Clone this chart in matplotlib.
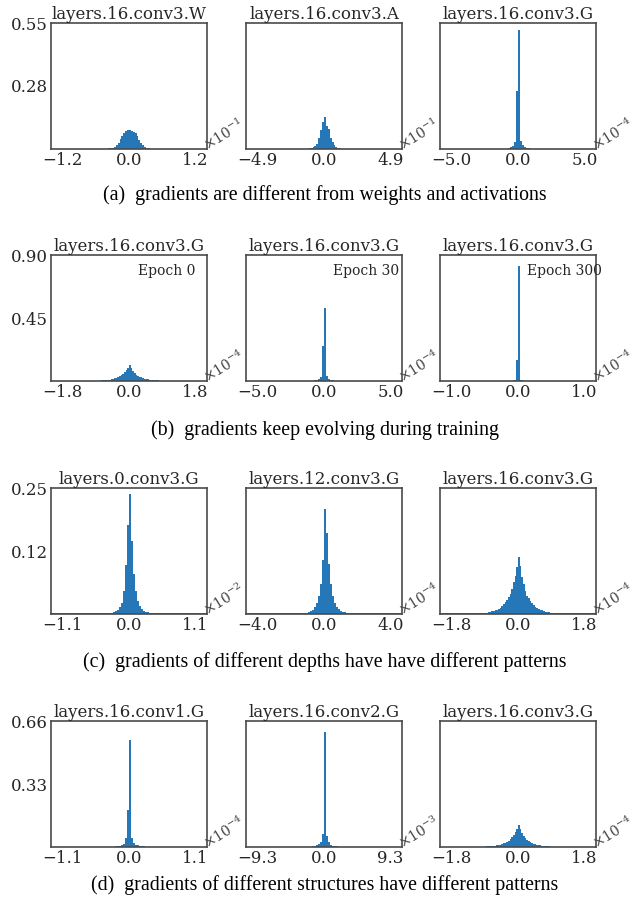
import matplotlib
matplotlib.use("Agg")
import matplotlib.pyplot as plt
import numpy as np

plt.rcParams['font.family'] = ['DejaVu Serif']
plt.rcParams['mathtext.fontset'] = 'dejavuserif'

# ---------------- data (histogram bin heights) ----------------
# bin k spans [k*bw, (k+1)*bw] in the panel's scaled units
w16_conv3_bw = 0.034
w16_conv3_k0 = -11
w16_conv3_h = [0.003, 0.004, 0.006, 0.010, 0.017, 0.028, 0.043, 0.058, 0.070, 0.078, 0.081,
               0.082, 0.080, 0.076, 0.068, 0.056, 0.041, 0.027, 0.016, 0.009, 0.005, 0.003]
w16_conv3_tail = [-1.40, 1.40, 0.002]

a16_conv3_bw = 0.14
a16_conv3_k0 = -8
a16_conv3_h = [0.003, 0.005, 0.008, 0.013, 0.024, 0.048, 0.085, 0.120,
               0.138, 0.100, 0.088, 0.050, 0.030, 0.016, 0.009, 0.005, 0.003]
a16_conv3_tail = [-3.5, 5.7, 0.0015]

g16_conv3_ep30_bw = 0.15
g16_conv3_ep30_k0 = -5
g16_conv3_ep30_h = [0.004, 0.007, 0.012, 0.030, 0.253, 0.520, 0.036, 0.016, 0.008, 0.005, 0.003]
g16_conv3_ep30_tail = [-5.8, 5.8, 0.0015]

g16_conv3_ep0_bw = 0.045
g16_conv3_ep0_k0 = -20
g16_conv3_ep0_h = [0.0024, 0.0028, 0.0033, 0.004, 0.005, 0.006, 0.007, 0.0085, 0.010, 0.012,
                   0.015, 0.019, 0.023, 0.028, 0.033, 0.040, 0.050, 0.063, 0.076, 0.093,
                   0.114, 0.096, 0.073, 0.060, 0.046, 0.036, 0.031, 0.026, 0.021, 0.017,
                   0.014, 0.011, 0.009, 0.008, 0.007, 0.0055, 0.0045, 0.0037, 0.003, 0.0026]
g16_conv3_ep0_tail = [-2.1, 2.1, 0.0015]

g16_conv3_ep300_bw = 0.023
g16_conv3_ep300_k0 = -3
g16_conv3_ep300_h = [0.004, 0.008, 0.150, 0.823, 0.010, 0.004]
g16_conv3_ep300_tail = [-1.17, 1.17, 0.001]

g0_conv3_bw = 0.033
g0_conv3_k0 = -9
g0_conv3_h = [0.002, 0.003, 0.005, 0.008, 0.013, 0.022, 0.045, 0.097, 0.177,
              0.239, 0.144, 0.080, 0.045, 0.025, 0.015, 0.009, 0.006, 0.004, 0.003]
g0_conv3_tail = [-1.28, 1.28, 0.0015]

g12_conv3_bw = 0.12
g12_conv3_k0 = -9
g12_conv3_h = [0.002, 0.003, 0.005, 0.008, 0.013, 0.022, 0.035, 0.060, 0.107,
               0.208, 0.160, 0.100, 0.060, 0.036, 0.022, 0.014, 0.009, 0.006, 0.004, 0.003]
g12_conv3_tail = [-4.68, 4.68, 0.0015]

g16_conv1_bw = 0.033
g16_conv1_k0 = -7
g16_conv1_h = [0.003, 0.004, 0.006, 0.009, 0.015, 0.045, 0.193,
               0.562, 0.048, 0.020, 0.012, 0.008, 0.005, 0.004, 0.003]
g16_conv1_tail = [-1.28, 1.28, 0.0015]

g16_conv2_bw = 0.28
g16_conv2_k0 = -6
g16_conv2_h = [0.003, 0.005, 0.008, 0.014, 0.028, 0.067,
               0.602, 0.060, 0.025, 0.012, 0.007, 0.004, 0.003]
g16_conv2_tail = [-10.9, 10.9, 0.0015]

titles = [["layers.16.conv3.W", "layers.16.conv3.A", "layers.16.conv3.G"],
          ["layers.16.conv3.G", "layers.16.conv3.G", "layers.16.conv3.G"],
          ["layers.0.conv3.G", "layers.12.conv3.G", "layers.16.conv3.G"],
          ["layers.16.conv1.G", "layers.16.conv2.G", "layers.16.conv3.G"]]
xticks_max = [[1.2, 4.9, 5.0], [1.8, 5.0, 1.0], [1.1, 4.0, 1.8], [1.1, 9.3, 1.8]]
exponents = [[-1, -1, -4], [-4, -4, -4], [-2, -4, -4], [-4, -3, -4]]
row_ymax = [0.55, 0.90, 0.25, 0.66]
epoch_labels = ["Epoch 0", "Epoch 30", "Epoch 300"]
captions = ["(a)  gradients are different from weights and activations",
            "(b)  gradients keep evolving during training",
            "(c)  gradients of different depths have have different patterns",
            "(d)  gradients of different structures have different patterns"]

hist = [[(w16_conv3_bw, w16_conv3_k0, w16_conv3_h, w16_conv3_tail),
         (a16_conv3_bw, a16_conv3_k0, a16_conv3_h, a16_conv3_tail),
         (g16_conv3_ep30_bw, g16_conv3_ep30_k0, g16_conv3_ep30_h, g16_conv3_ep30_tail)],
        [(g16_conv3_ep0_bw, g16_conv3_ep0_k0, g16_conv3_ep0_h, g16_conv3_ep0_tail),
         (g16_conv3_ep30_bw, g16_conv3_ep30_k0, g16_conv3_ep30_h, g16_conv3_ep30_tail),
         (g16_conv3_ep300_bw, g16_conv3_ep300_k0, g16_conv3_ep300_h, g16_conv3_ep300_tail)],
        [(g0_conv3_bw, g0_conv3_k0, g0_conv3_h, g0_conv3_tail),
         (g12_conv3_bw, g12_conv3_k0, g12_conv3_h, g12_conv3_tail),
         (g16_conv3_ep0_bw, g16_conv3_ep0_k0, g16_conv3_ep0_h, g16_conv3_ep0_tail)],
        [(g16_conv1_bw, g16_conv1_k0, g16_conv1_h, g16_conv1_tail),
         (g16_conv2_bw, g16_conv2_k0, g16_conv2_h, g16_conv2_tail),
         (g16_conv3_ep0_bw, g16_conv3_ep0_k0, g16_conv3_ep0_h, g16_conv3_ep0_tail)]]

# ---------------- layout ----------------
W, H = 643, 905
fig = plt.figure(figsize=(W / 100, H / 100), dpi=100)
col_left = [51, 246, 440]
ax_w = 156
row_top = [23, 255, 488, 721]
ax_h = 126
cap_y = [195, 430, 662, 885]
bar_color = '#2677b8'
spine_color = '#4a4a4a'
text_color = '#262626'

for r in range(4):
    for c in range(3):
        left = col_left[c] / W
        bottom = 1 - (row_top[r] + ax_h) / H
        ax = fig.add_axes([left, bottom, ax_w / W, ax_h / H])
        bw, k0, hs, tail = hist[r][c]
        # tails
        ax.bar([tail[0]], [tail[2]], width=tail[1] - tail[0], align='edge',
               color=bar_color, linewidth=0)
        edges = [(k0 + i) * bw for i in range(len(hs))]
        ax.bar(edges, hs, width=bw, align='edge', color=bar_color, linewidth=0)
        T = xticks_max[r][c]
        ax.set_xlim(-T * 1.17, T * 1.17)
        ax.set_ylim(0, row_ymax[r])
        ax.set_xticks([-T, 0, T])
        ax.set_xticklabels([f"{v:.1f}".replace('-', '\u2212') for v in [-T, 0.0, T]])
        if c == 0:
            ym = row_ymax[r]
            ax.set_yticks([ym / 2, ym])
            ax.set_yticklabels([f"{ym/2:.2f}", f"{ym:.2f}"])
        else:
            ax.set_yticks([])
        ax.tick_params(length=0, labelsize=12, colors=text_color, pad=2)
        for s in ax.spines.values():
            s.set_color(spine_color)
            s.set_linewidth(1.2)
        ax.set_title(titles[r][c], fontsize=12, color=text_color, pad=2)
        ax.text(1.015, -0.04, r"$\times10^{%d}$" % exponents[r][c], transform=ax.transAxes,
                rotation=32, rotation_mode='anchor', ha='left', va='bottom',
                fontsize=10, color='#444444')
        if r == 1:
            ax.text(0.56, 0.875, epoch_labels[c], transform=ax.transAxes,
                    ha='left', va='center', fontsize=10, color=text_color)
    fig.text(325 / W, 1 - cap_y[r] / H, captions[r], ha='center', va='center',
             fontsize=14.3, family='Liberation Serif', color='black')

fig.savefig('out.png', dpi=100)
